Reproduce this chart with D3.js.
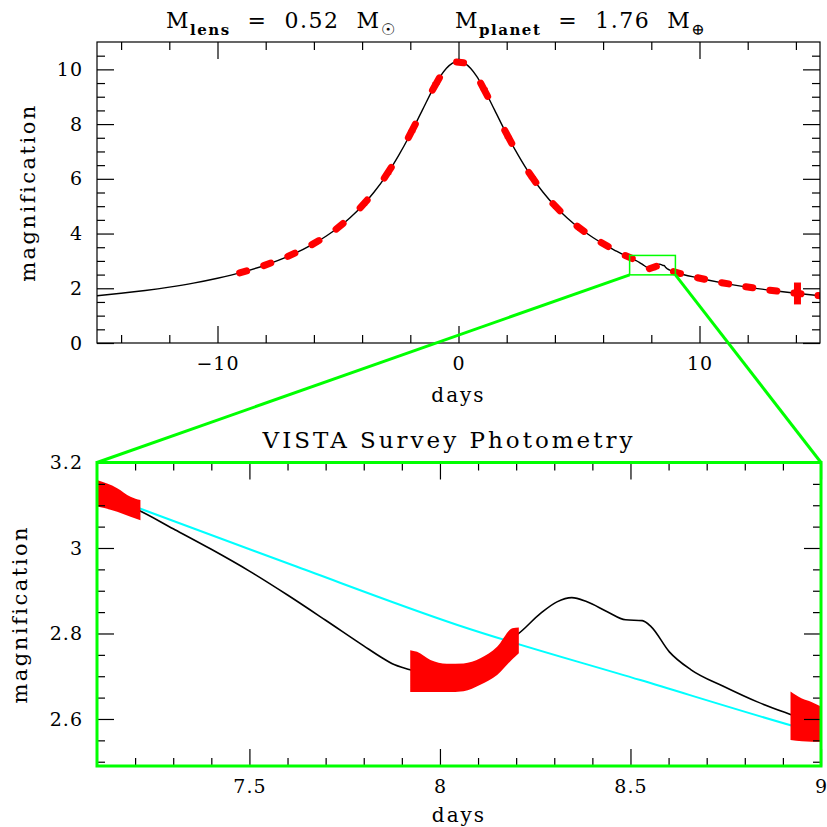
<!DOCTYPE html>
<html>
<head>
<meta charset="utf-8">
<script src="https://cdn.jsdelivr.net/npm/d3@7"></script>
<style>
  html, body { margin: 0; padding: 0; background: #fff; }
  svg { display: block; }
  text { font-family: "DejaVu Serif", "Liberation Serif", serif; fill: #000; white-space: pre; }
</style>
</head>
<body>
<svg id="chart" width="827" height="827"></svg>
<script>
// Model light curve of the lensing event (days from peak, magnification)
const modelDays = [-15, -14, -13, -12, -11, -10, -9, -8, -7, -6, -5.5, -5, -4.5, -4, -3.5, -3, -2.5, -2, -1.5, -1,
  -0.75, -0.5, -0.25, 0, 0.25, 0.5, 0.75, 1, 1.5, 2, 2.5, 3, 3.5, 4, 4.5, 5, 5.5, 6, 6.5, 7,
  7.1, 7.205, 7.3, 7.4, 7.5, 7.6, 7.7, 7.8, 7.85, 7.875, 7.922, 7.99, 8.089, 8.176, 8.202,
  8.264, 8.307, 8.346, 8.386, 8.439, 8.487, 8.531, 8.554, 8.602, 8.659, 8.745, 8.833, 8.925, 9.0,
  10, 11, 12, 13, 14, 15];
const modelMag = [1.727, 1.817, 1.921, 2.044, 2.19, 2.368, 2.58, 2.85, 3.19, 3.63, 3.90, 4.21, 4.58, 5.01, 5.52, 6.12, 6.83, 7.63, 8.51, 9.38,
  9.75, 10.04, 10.23, 10.29, 10.23, 10.04, 9.75, 9.38, 8.51, 7.63, 6.83, 6.12, 5.52, 5.01, 4.58, 4.21, 3.90, 3.63, 3.38, 3.16,
  3.125, 3.090, 3.045, 2.997, 2.946, 2.890, 2.831, 2.771, 2.742, 2.729, 2.715, 2.697, 2.713, 2.783, 2.797,
  2.847, 2.874, 2.884, 2.874, 2.851, 2.832, 2.830, 2.816, 2.757, 2.715, 2.676, 2.640, 2.609, 2.585,
  2.368, 2.19, 2.044, 1.921, 1.817, 1.727];

// Single-lens curve (no planet) across the zoom window
const singleDays = [7.1, 7.205, 7.625, 8.046, 8.526, 8.925, 9.0];
const singleMag = [3.13, 3.095, 2.956, 2.820, 2.691, 2.584, 2.565];

// Nightly survey observations: night, mean magnification, error
const nightDays = [-9, -8, -7, -6, -5, -4, -3, -2, -1, 0, 1, 2, 3, 4, 5, 6, 7, 8, 9, 10, 11, 12, 13, 14, 15];
const nightMag = [2.60, 2.87, 3.21, 3.66, 4.26, 5.07, 6.20, 7.74, 9.48, 10.29, 9.28, 7.52, 6.04, 4.95, 4.16, 3.60,
  3.14, 2.71, 2.57, 2.36, 2.18, 2.04, 1.92, 1.81, 1.72];
const nightErr = [0.05, 0.05, 0.05, 0.05, 0.05, 0.05, 0.05, 0.05, 0.05, 0.05, 0.05, 0.05, 0.05, 0.05, 0.05, 0.05,
  0.05, 0.05, 0.05, 0.05, 0.05, 0.05, 0.05, 0.40, 0.05];
const nightOpen = -0.08, nightClose = 0.21;   // observing window around each night, days

// Dense photometry inside the zoom window (upper and lower envelope of error bars)
const windowDays = [
  [7.10, 7.153, 7.188, 7.214],
  [7.922, 7.94, 7.975, 8.018, 8.062, 8.106, 8.15, 8.19, 8.207],
  [8.92, 8.95, 8.975, 9.0]
];
const windowHigh = [
  [3.159, 3.140, 3.120, 3.112],
  [2.761, 2.757, 2.738, 2.729, 2.730, 2.742, 2.769, 2.812, 2.814],
  [2.664, 2.648, 2.640, 2.629]
];
const windowLow = [
  [3.097, 3.085, 3.073, 3.065],
  [2.663, 2.663, 2.663, 2.663, 2.665, 2.680, 2.703, 2.740, 2.754],
  [2.551, 2.548, 2.547, 2.547]
];

// Axis ranges and tick labels
const topDayRange = [-15, 15];
const topMagRange = [0, 11];
const topDayTicks = [-10, 0, 10];
const topDayMinor = [-14, -12, -8, -6, -4, -2, 2, 4, 6, 8, 12, 14];
const topMagTicks = [0, 2, 4, 6, 8, 10];
const zoomDayRange = [7.1, 9];
const zoomMagRange = [2.49, 3.2];
const zoomDayTicks = [7.5, 8, 8.5, 9];
const zoomMagTicks = [2.6, 2.8, 3, 3.2];

const RED = "#ff0000", GREEN = "#00ff00", CYAN = "#00ffff";
const svg = d3.select("#chart");
const defs = svg.append("defs");

// magnification of the model curve at an arbitrary time (linear between samples)
const bis = d3.bisector(d => d).left;
function modelAt(t) {
  const i = Math.max(1, Math.min(modelDays.length - 1, bis(modelDays, t)));
  const f = (t - modelDays[i - 1]) / (modelDays[i] - modelDays[i - 1]);
  return modelMag[i - 1] + f * (modelMag[i] - modelMag[i - 1]);
}

// ---------- top panel ----------
const T = { left: 97, right: 820, top: 42, bottom: 343 };
const xT = d3.scaleLinear().domain(topDayRange).range([T.left, T.right]);
const yT = d3.scaleLinear().domain(topMagRange).range([T.bottom, T.top]);

defs.append("clipPath").attr("id", "clipTop").append("rect")
  .attr("x", T.left).attr("y", T.top).attr("width", T.right - T.left).attr("height", T.bottom - T.top);

const modelPts = modelDays.map((d, i) => [d, modelMag[i]]);
const lineT = d3.line().x(d => xT(d[0])).y(d => yT(d[1])).curve(d3.curveMonotoneX);

const gTop = svg.append("g").attr("clip-path", "url(#clipTop)");
gTop.append("path").attr("d", lineT(modelPts)).attr("fill", "none").attr("stroke", "#000").attr("stroke-width", 1.4);

// nightly points: each night's run of measurements as a short thick red trace, plus its error bar
nightDays.forEach((n, i) => {
  const t0 = n + nightOpen, t1 = n + nightClose;
  const x0 = xT(t0), x1 = xT(t1);
  gTop.append("rect").attr("x", x0).attr("width", x1 - x0)
    .attr("y", yT(nightMag[i] + nightErr[i])).attr("height", yT(nightMag[i] - nightErr[i]) - yT(nightMag[i] + nightErr[i]))
    .attr("fill", RED);
  gTop.append("line")
    .attr("x1", x0).attr("y1", yT(modelAt(t0))).attr("x2", x1).attr("y2", yT(modelAt(t1)))
    .attr("stroke", RED).attr("stroke-width", 7).attr("stroke-linecap", "round");
});

// zoom window outline
svg.append("rect")
  .attr("x", xT(zoomDayRange[0])).attr("y", yT(zoomMagRange[1]))
  .attr("width", xT(zoomDayRange[1]) - xT(zoomDayRange[0]))
  .attr("height", yT(zoomMagRange[0]) - yT(zoomMagRange[1]))
  .attr("fill", "none").attr("stroke", GREEN).attr("stroke-width", 1.5);

// frame and ticks
svg.append("rect").attr("x", T.left).attr("y", T.top).attr("width", T.right - T.left).attr("height", T.bottom - T.top)
  .attr("fill", "none").attr("stroke", "#000").attr("stroke-width", 1.2);

const MAJ = 17, MIN = 8;
function ticks(g, axisFn, scale, values, len, labels, pad) {
  const a = axisFn(scale).tickValues(values).tickSizeInner(-len).tickSizeOuter(0).tickPadding(pad || 0);
  if (labels) a.tickFormat(labels); else a.tickFormat("");
  g.call(a);
  g.select(".domain").remove();
  g.selectAll(".tick line").attr("stroke", "#000").attr("stroke-width", 1.2);
  return g;
}
const fmtTopX = d => d < 0 ? "\u2212" + Math.abs(d) : String(d);
const axisTxt = g => g.selectAll("text").attr("font-size", 19).attr("font-family", "DejaVu Serif").attr("letter-spacing", 1);

const topMagMinor = d3.range(0.5, 11, 0.5).filter(v => !topMagTicks.includes(v));
ticks(svg.append("g").attr("transform", `translate(0,${T.bottom})`), d3.axisBottom, xT, topDayTicks, MAJ, fmtTopX, 14).call(axisTxt);
ticks(svg.append("g").attr("transform", `translate(0,${T.bottom})`), d3.axisBottom, xT, topDayMinor, MIN);
ticks(svg.append("g").attr("transform", `translate(0,${T.top})`), d3.axisTop, xT, topDayTicks, MAJ);
ticks(svg.append("g").attr("transform", `translate(0,${T.top})`), d3.axisTop, xT, topDayMinor, MIN);
ticks(svg.append("g").attr("transform", `translate(${T.left},0)`), d3.axisLeft, yT, topMagTicks, MAJ, d => String(d), 14).call(axisTxt);
ticks(svg.append("g").attr("transform", `translate(${T.left},0)`), d3.axisLeft, yT, topMagMinor, MIN);
ticks(svg.append("g").attr("transform", `translate(${T.right},0)`), d3.axisRight, yT, topMagTicks, MAJ);
ticks(svg.append("g").attr("transform", `translate(${T.right},0)`), d3.axisRight, yT, topMagMinor, MIN);

// title
function titlePart(x, sub, value, sym) {
  const t = svg.append("text").attr("x", x).attr("y", 28).attr("font-size", 22).attr("letter-spacing", 1.5);
  t.append("tspan").text("M");
  t.append("tspan").attr("dy", 7).attr("font-size", 15).attr("font-weight", "bold").text(sub);
  t.append("tspan").attr("dy", -7).text("  =  " + value + "  M");
  t.append("tspan").attr("dy", 7).attr("font-size", 16).text(sym);
}
titlePart(166, "lens", "0.52", "\u2609");
titlePart(455, "planet", "1.76", "\u2295");

svg.append("text").attr("x", (T.left + T.right) / 2).attr("y", 402).attr("text-anchor", "middle")
  .attr("font-size", 20).attr("letter-spacing", 2).text("days");
svg.append("text").attr("transform", `translate(35,${(T.top + T.bottom) / 2}) rotate(-90)`).attr("text-anchor", "middle")
  .attr("font-size", 21).attr("letter-spacing", 2.5).text("magnification");

// ---------- bottom (zoom) panel ----------
const B = { left: 97, right: 821, top: 462.5, bottom: 766 };
const xB = d3.scaleLinear().domain(zoomDayRange).range([B.left, B.right]);
const yB = d3.scaleLinear().domain(zoomMagRange).range([B.bottom, B.top]);

defs.append("clipPath").attr("id", "clipBottom").append("rect")
  .attr("x", B.left).attr("y", B.top).attr("width", B.right - B.left).attr("height", B.bottom - B.top);
const gB = svg.append("g").attr("clip-path", "url(#clipBottom)");

const lineB = d3.line().x(d => xB(d[0])).y(d => yB(d[1])).curve(d3.curveMonotoneX);
gB.append("path").attr("d", lineB(modelPts)).attr("fill", "none").attr("stroke", "#000").attr("stroke-width", 1.6);
gB.append("path").attr("d", lineB(singleDays.map((d, i) => [d, singleMag[i]])))
  .attr("fill", "none").attr("stroke", CYAN).attr("stroke-width", 2);

const areaB = d3.area().x(d => xB(d[0])).y0(d => yB(d[1])).y1(d => yB(d[2])).curve(d3.curveMonotoneX);
windowDays.forEach((days, k) => {
  gB.append("path").attr("d", areaB(days.map((d, i) => [d, windowLow[k][i], windowHigh[k][i]]))).attr("fill", RED);
});

const zoomDayMinor = d3.range(7.2, 9.0001, 0.1).map(v => +v.toFixed(2)).filter(v => !zoomDayTicks.includes(v));
const zoomMagMinor = d3.range(2.5, 3.2, 0.05).map(v => +v.toFixed(2)).filter(v => !zoomMagTicks.includes(v));
ticks(svg.append("g").attr("transform", `translate(0,${B.bottom})`), d3.axisBottom, xB, zoomDayTicks, MAJ, d => String(d), 14).call(axisTxt);
ticks(svg.append("g").attr("transform", `translate(0,${B.bottom})`), d3.axisBottom, xB, zoomDayMinor, MIN);
ticks(svg.append("g").attr("transform", `translate(0,${B.top})`), d3.axisTop, xB, zoomDayTicks, MAJ);
ticks(svg.append("g").attr("transform", `translate(0,${B.top})`), d3.axisTop, xB, zoomDayMinor, MIN);
ticks(svg.append("g").attr("transform", `translate(${B.left},0)`), d3.axisLeft, yB, zoomMagTicks, MAJ, d => String(d), 14).call(axisTxt);
ticks(svg.append("g").attr("transform", `translate(${B.left},0)`), d3.axisLeft, yB, zoomMagMinor, MIN);
ticks(svg.append("g").attr("transform", `translate(${B.right},0)`), d3.axisRight, yB, zoomMagTicks, MAJ);
ticks(svg.append("g").attr("transform", `translate(${B.right},0)`), d3.axisRight, yB, zoomMagMinor, MIN);

svg.append("rect").attr("x", B.left).attr("y", B.top).attr("width", B.right - B.left).attr("height", B.bottom - B.top)
  .attr("fill", "none").attr("stroke", GREEN).attr("stroke-width", 3);

svg.append("text").attr("x", (B.left + B.right) / 2 - 10).attr("y", 448).attr("text-anchor", "middle")
  .attr("font-size", 23).attr("letter-spacing", 3).text("VISTA Survey Photometry");
svg.append("text").attr("x", (B.left + B.right) / 2).attr("y", 822).attr("text-anchor", "middle")
  .attr("font-size", 20).attr("letter-spacing", 2).text("days");
svg.append("text").attr("transform", `translate(27,${(B.top + B.bottom) / 2}) rotate(-90)`).attr("text-anchor", "middle")
  .attr("font-size", 21).attr("letter-spacing", 2.5).text("magnification");

// connectors from the zoom window to the lower panel
svg.append("line").attr("x1", xT(zoomDayRange[0])).attr("y1", yT(zoomMagRange[0])).attr("x2", B.left).attr("y2", B.top)
  .attr("stroke", GREEN).attr("stroke-width", 3);
svg.append("line").attr("x1", xT(zoomDayRange[1])).attr("y1", yT(zoomMagRange[0])).attr("x2", B.right).attr("y2", B.top)
  .attr("stroke", GREEN).attr("stroke-width", 3);
</script>
</body>
</html>
